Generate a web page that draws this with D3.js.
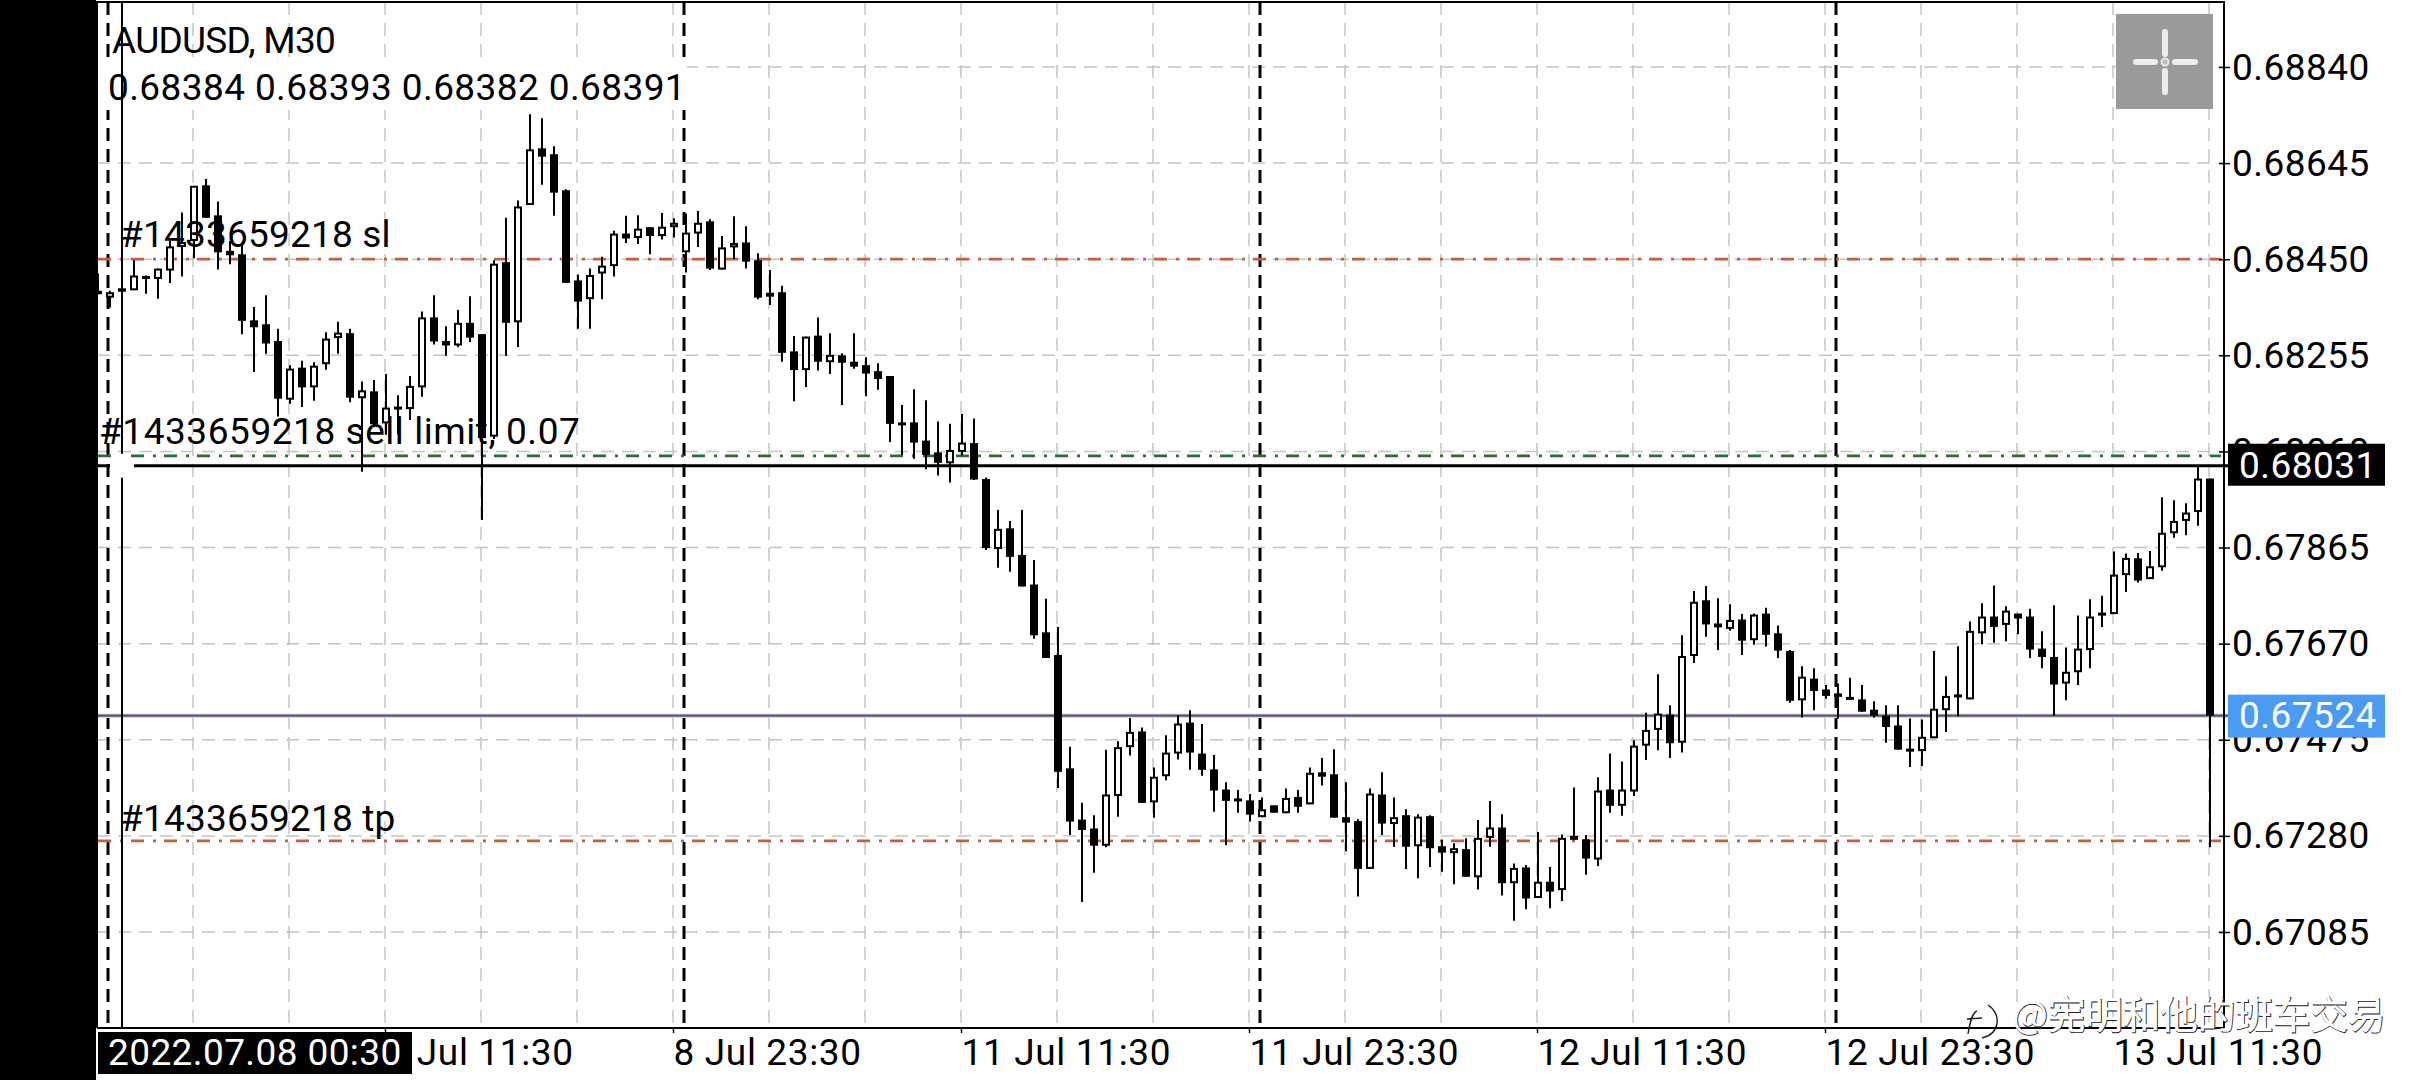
<!DOCTYPE html>
<html>
<head>
<meta charset="utf-8">
<script src="https://cdnjs.cloudflare.com/ajax/libs/d3/7.8.5/d3.min.js"></script>
<style>
html,body{margin:0;padding:0;background:#fff;}
svg{display:block;}
text{font-family:Roboto,sans-serif;}
</style>
</head>
<body>
<svg id="chart" width="2412" height="1080"></svg>
<script>
// Prices in 1e-5 units, AUDUSD M30
const highs = [
68421,68386,68393,68448,68417,68431,68487,68545,68599,68613,
68567,68487,68483,68353,68377,68309,68235,68244,68241,68302,
68323,68309,68202,68205,68217,68174,68213,68344,68377,68314,
68347,68375,68298,68448,68534,68569,68744,68736,68679,68592,
68419,68431,68455,68508,68538,68539,68515,68544,68533,68543,
68548,68531,68497,68537,68517,68462,68428,68396,68294,68293,
68332,68300,68259,68300,68251,68239,68213,68154,68186,68164,
68121,68116,68136,68127,68007,67941,67919,67941,67840,67761,
67704,67461,67347,67322,67455,67472,67519,67500,67419,67484,
67525,67535,67507,67444,67389,67373,67365,67358,67342,67376,
67373,67419,67438,67456,67389,67314,67376,67409,67358,67334,
67324,67322,67272,67265,67275,67312,67351,67324,67224,67221,
67288,67217,67283,67378,67282,67399,67447,67431,67474,67530,
67608,67545,67687,67777,67787,67762,67750,67730,67731,67743,
67707,67657,67624,67620,67586,67589,67601,67586,67553,67545,
67545,67518,67516,67655,67604,67665,67715,67752,67788,67746,
67731,67741,67695,67748,67662,67727,67760,67767,67857,67853,
67854,67858,67967,67961,67955,68029,68005];
const lows = [
68379,68352,68382,68387,68380,68370,68402,68415,68452,68534,
68429,68440,68298,68221,68258,68131,68157,68150,68163,68226,
68258,68160,68019,68113,68094,68094,68124,68171,68277,68254,
68272,68282,67921,68085,68254,68272,68560,68601,68538,68402,
68309,68309,68369,68415,68483,68481,68460,68490,68494,68423,
68475,68428,68429,68450,68431,68369,68357,68242,68162,68191,
68224,68217,68154,68228,68172,68185,68079,68053,68045,68024,
68011,67997,68052,68002,67860,67824,67816,67786,67680,67641,
67377,67282,67146,67205,67257,67319,67443,67347,67317,67393,
67435,67414,67402,67329,67261,67327,67309,67318,67327,67326,
67327,67344,67382,67317,67249,67157,67213,67282,67258,67213,
67194,67217,67207,67182,67197,67171,67258,67159,67108,67131,
67154,67133,67148,67272,67201,67219,67327,67321,67361,67434,
67454,67438,67449,67631,67684,67657,67696,67647,67668,67664,
67641,67550,67520,67535,67558,67518,67557,67532,67520,67469,
67455,67420,67422,67478,67491,67522,67557,67669,67672,67675,
67689,67641,67620,67524,67555,67586,67620,67704,67730,67775,
67794,67801,67818,67885,67890,67909,67257];
const opens = [
68379,68372,68384,68387,68413,68410,68427,68475,68487,68600,
68539,68467,68460,68326,68318,68284,68165,68230,68190,68237,
68290,68300,68168,68182,68117,68151,68146,68190,68332,68284,
68275,68321,68298,68090,68444,68322,68560,68675,68663,68590,
68407,68369,68421,68436,68502,68493,68515,68497,68515,68464,
68502,68527,68429,68474,68484,68448,68374,68383,68263,68225,
68295,68241,68255,68242,68235,68223,68213,68116,68119,68082,
68058,68036,68059,68077,68004,67862,67904,67850,67790,67693,
67647,67417,67313,67295,67260,67361,67460,67492,67348,67401,
67447,67510,67447,67415,67374,67356,67352,67318,67342,67326,
67359,67344,67409,67405,67318,67310,67213,67364,67304,67322,
67259,67320,67259,67245,67253,67196,67276,67297,67184,67216,
67154,67187,67170,67280,67273,67232,67374,67341,67370,67463,
67495,67526,67469,67645,67758,67711,67700,67719,67677,67731,
67691,67655,67555,67599,67577,67569,67562,67557,67536,67524,
67504,67457,67452,67478,67535,67567,67557,67691,67725,67708,
67731,67725,67660,67643,67589,67612,67657,67733,67730,67809,
67843,67801,67825,67894,67919,67937,68005];
const closes = [
68386,68383,68391,68417,68416,68431,68476,68485,68599,68534,
68464,68458,68325,68312,68279,68167,68228,68190,68234,68289,
68301,68169,68184,68115,68149,68148,68193,68332,68283,68275,
68321,68291,68087,68441,68321,68557,68673,68658,68585,68402,
68364,68418,68437,68502,68492,68512,68497,68516,68524,68504,
68524,68431,68474,68483,68445,68372,68382,68260,68225,68293,
68242,68256,68240,68232,68218,68207,68116,68119,68078,68053,
68037,68063,68078,68003,67864,67903,67846,67786,67687,67641,
67410,67309,67292,67260,67364,67460,67491,67347,67400,67449,
67508,67449,67414,67372,67351,67354,67323,67334,67327,67357,
67339,67408,67400,67317,67307,67213,67366,67305,67318,67258,
67319,67255,67246,67255,67197,67276,67297,67184,67215,67153,
67187,67167,67276,67272,67234,67372,67341,67374,67463,67495,
67528,67468,67645,67755,67709,67703,67718,67676,67729,67688,
67656,67554,67603,67574,67564,67562,67557,67532,67524,67501,
67455,67455,67481,67538,67564,67561,67696,67725,67704,67737,
67721,67658,67643,67587,67613,67660,67725,67727,67810,67844,
67798,67827,67895,67919,67936,68005,67524];

const priceTicks = [68840,68645,68450,68255,68060,67865,67670,67475,67280,67085];
const timeTickIdx = [24,48,72,96,120,144,168];
const timeTickLabels = ["8 Jul 11:30","8 Jul 23:30","11 Jul 11:30","11 Jul 23:30","12 Jul 11:30","12 Jul 23:30","13 Jul 11:30"];
const gridIdx = [8,16,24,32,40,48,56,64,72,80,88,96,104,112,120,128,136,144,152,160,168,176];
const separatorIdx = [1,49,97,145];
const levelValues = [68450,68051,67270];
const levelColors = ["#c4603c","#2f6b33","#c4603c"];
const levelLabels = ["#1433659218 sl","#1433659218 sell limit, 0.07","#1433659218 tp"];
const crossIdx = 2, crossPrice = 68031, bidPrice = 67524;
const crossDate = "2022.07.08 00:30";
const symbolTitle = "AUDUSD, M30";
const ohlcText = "0.68384 0.68393 0.68382 0.68391";
const watermark = "@宪明和他的班车交易";

const fmt = v => (v/100000).toFixed(5);
const svg = d3.select("#chart");
const L=97, R=2224, T=2, B=1028;
const x = d3.scaleLinear().domain([0,176]).range([98,2210]);
const y = d3.scaleLinear().domain([67085,68840]).range([932,67]);
const F = 37;

svg.append("defs").append("clipPath").attr("id","plot").append("rect")
  .attr("x",L+1).attr("y",T).attr("width",R-L-1).attr("height",B-T);

// grid
const grid = svg.append("g").attr("stroke","#c4c4c4").attr("stroke-width",1.5).attr("stroke-dasharray","13 8");
grid.selectAll("line.h").data(priceTicks).join("line").attr("class","h")
  .attr("x1",L).attr("x2",R).attr("y1",d=>y(d)).attr("y2",d=>y(d));
grid.selectAll("line.v").data(gridIdx).join("line").attr("class","v")
  .attr("x1",d=>x(d)-1).attr("x2",d=>x(d)-1).attr("y1",T).attr("y2",B);

// day separators
svg.append("g").attr("stroke","#000").attr("stroke-width",3).attr("stroke-dasharray","13 8")
  .selectAll("line").data(separatorIdx).join("line")
  .attr("x1",d=>x(d)-2).attr("x2",d=>x(d)-2).attr("y1",T).attr("y2",B);

// white backing of the OHLC row
svg.append("rect").attr("x",L+1).attr("y",64).attr("width",589).attr("height",46).attr("fill","#fff");

// order levels
svg.append("g").selectAll("line").data(levelValues).join("line")
  .attr("x1",L+1).attr("x2",R-3).attr("y1",d=>y(d)).attr("y2",d=>y(d))
  .attr("stroke",(d,i)=>levelColors[i]).attr("stroke-width",2.8).attr("stroke-dasharray","13 9 3 8");

// bid line
svg.append("line").attr("x1",L).attr("x2",2228).attr("y1",y(bidPrice)).attr("y2",y(bidPrice))
  .attr("stroke","#ddd8e6").attr("stroke-width",4.5);
svg.append("line").attr("x1",L).attr("x2",2228).attr("y1",y(bidPrice)).attr("y2",y(bidPrice))
  .attr("stroke","#5f4e78").attr("stroke-width",2.4);

// crosshair horizontal
svg.append("line").attr("x1",L).attr("x2",2228).attr("y1",y(crossPrice)).attr("y2",y(crossPrice))
  .attr("stroke","#000").attr("stroke-width",3);

// candles
const candles = d3.range(opens.length);
const cg = svg.append("g").attr("clip-path","url(#plot)");
cg.selectAll("line").data(candles).join("line")
  .attr("x1",i=>x(i)).attr("x2",i=>x(i)).attr("y1",i=>y(highs[i])).attr("y2",i=>y(lows[i]))
  .attr("stroke","#000").attr("stroke-width",2);
cg.selectAll("rect").data(candles).join("rect")
  .attr("x",i=>x(i)-(closes[i]>=opens[i]?3:4))
  .attr("width",i=>closes[i]>=opens[i]?6:8)
  .attr("y",i=>y(Math.max(opens[i],closes[i]))+(closes[i]>=opens[i]?1:0))
  .attr("height",i=>Math.max(closes[i]>=opens[i]?1:3,Math.abs(y(opens[i])-y(closes[i]))-(closes[i]>=opens[i]?2:0)))
  .attr("fill",i=>closes[i]>=opens[i]?"#fff":"#000")
  .attr("stroke",i=>closes[i]>=opens[i]?"#000":"none")
  .attr("stroke-width",2);

// crosshair vertical + touch marker
svg.append("line").attr("x1",x(crossIdx)).attr("x2",x(crossIdx)).attr("y1",T).attr("y2",B)
  .attr("stroke","#000").attr("stroke-width",2);
svg.append("ellipse").attr("cx",x(crossIdx)).attr("cy",y(crossPrice)).attr("rx",12).attr("ry",12).attr("fill","#fff");

// frame
const frame = svg.append("g").attr("stroke","#000").attr("stroke-width",2).attr("fill","none");
frame.append("path").attr("d",`M${L},${B}V${T}H${R}V${B}`);

// left black strip
svg.append("rect").attr("x",0).attr("y",0).attr("width",96).attr("height",1080).attr("fill","#000");

// right axis
const yAxis = d3.axisRight(y).tickValues(priceTicks).tickFormat(fmt).tickSize(6).tickPadding(2);
const ya = svg.append("g").attr("transform",`translate(${R},0)`).call(yAxis);
ya.select(".domain").remove();
ya.selectAll("line").attr("stroke","#000").attr("stroke-width",1.5).attr("x1",-5);
ya.selectAll("text").attr("font-family","Roboto,sans-serif").attr("font-size",F).attr("fill","#000")
  .attr("letter-spacing",0.45).attr("dy",null).attr("y",12).attr("x",8);

// bottom axis
const xAxis = d3.axisBottom(x).tickValues(timeTickIdx).tickFormat((d,i)=>timeTickLabels[i]).tickSize(5);
const xa = svg.append("g").attr("transform",`translate(-1,${B})`).call(xAxis);
xa.select(".domain").attr("stroke-width",2).attr("d",`M${L+1},0H${R+1}`);
xa.selectAll("line").attr("stroke","#000").attr("stroke-width",1.5);
xa.selectAll("text").attr("font-family","Roboto,sans-serif").attr("font-size",F).attr("fill","#000")
  .attr("letter-spacing",0.65).attr("text-anchor","start").attr("dy",null).attr("y",37).attr("x",0);

// chart text
const txt = (s,xx,yy,ls=0,fill="#000") => svg.append("text").attr("x",xx).attr("y",yy)
  .attr("font-size",F).attr("fill",fill).attr("letter-spacing",ls).text(s);
txt(symbolTitle,112,53,-0.7);
txt(ohlcText,108,100,0.4);
txt(levelLabels[0],120,247,0.2);
txt(levelLabels[1],99,444,0.55);
txt(levelLabels[2],120,831,0.2);

// price flags
svg.append("rect").attr("x",2228).attr("y",y(crossPrice)-22).attr("width",157).attr("height",42).attr("fill","#000");
txt(fmt(crossPrice),2239,y(crossPrice)+12,0.45,"#fff");
svg.append("rect").attr("x",2228).attr("y",y(bidPrice)-21).attr("width",157).attr("height",43).attr("fill","#4a9bf3");
txt(fmt(bidPrice),2239,y(bidPrice)+12,0.45,"#fff");

// date flag
svg.append("rect").attr("x",98).attr("y",1032).attr("width",314).attr("height",42).attr("fill","#000");
txt(crossDate,108,1065,0.4,"#fff");

// crosshair button
const btn = svg.append("g");
btn.append("rect").attr("x",2116).attr("y",14).attr("width",97).attr("height",95).attr("fill","#9a9a9a");
btn.selectAll("rect.a").data([[2133,59,25,6],[2172,59,26,6],[2162,29,6,28],[2162,68,6,27]]).join("rect").attr("class","a")
  .attr("x",d=>d[0]).attr("y",d=>d[1]).attr("width",d=>d[2]).attr("height",d=>d[3]).attr("rx",3).attr("fill","#ececec");
btn.append("circle").attr("cx",2165).attr("cy",62).attr("r",3.5).attr("fill","#bdbdbd").attr("stroke","#e4e4e4").attr("stroke-width",2);

// watermark
const wm = svg.append("g");
wm.append("path").attr("d","M1988,1005C2002,1014 2000,1034 1982,1038M1977,1011C1972,1013 1970,1022 1968,1034M1967,1019L1982,1018")
  .attr("fill","none").attr("stroke","#222").attr("stroke-width",1.4);
wm.append("text").attr("x",2013).attr("y",1029).attr("font-size",37.5)
  .style("font-family","'Noto Sans CJK SC',sans-serif")
  .attr("fill","#fff").attr("stroke","#222").attr("stroke-width",0.9).text(watermark);
wm.append("text").attr("x",2012).attr("y",1028).attr("font-size",37.5)
  .style("font-family","'Noto Sans CJK SC',sans-serif")
  .attr("fill","#fff").text(watermark);
</script>
</body>
</html>
